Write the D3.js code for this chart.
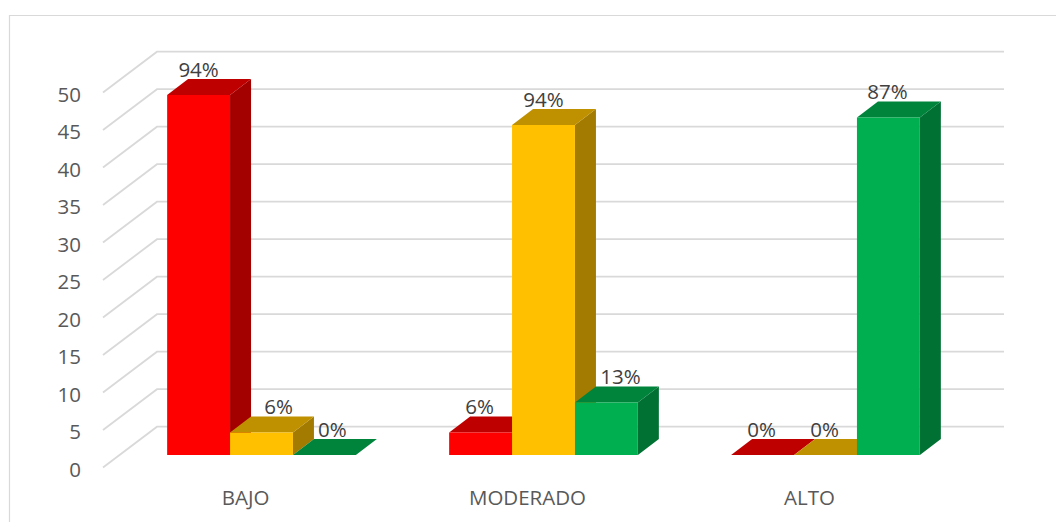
<!DOCTYPE html>
<html><head><meta charset="utf-8">
<script src="https://cdn.jsdelivr.net/npm/d3@7"></script>
<style>html,body{margin:0;padding:0;background:#fff}svg{display:block}</style>
</head><body><div id="c"></div>
<script>
const categories = ["BAJO","MODERADO","ALTO"];
const seriesNames = ["Rojo","Amarillo","Verde"];
const rojo = [48,3,0];
const amarillo = [3,44,0];
const verde = [0,7,45];
const rojoLabels = ["94%","6%","0%"];
const amarilloLabels = ["6%","94%","0%"];
const verdeLabels = ["0%","13%","87%"];
const yTicks = [0,5,10,15,20,25,30,35,40,45,50];

const W=1056,H=522;
const series=[
 {values:rojo,labels:rojoLabels,front:"#FF0000",top:"#BF0000",side:"#A30000",nudge:[0,-1,-1]},
 {values:amarillo,labels:amarilloLabels,front:"#FFC000",top:"#BF9000",side:"#A37B00",nudge:[17,0,-1]},
 {values:verde,labels:verdeLabels,front:"#00B050",top:"#00843C",side:"#007033",nudge:[8,14,-1]}
];
const svg=d3.select("#c").append("svg").attr("width",W).attr("height",H);
const FONT="'Open Sans',sans-serif";
const x=d3.scaleBand().domain(categories).range([120.5,966.5]);
const sub=d3.scaleBand().domain(d3.range(3)).range([0,188.7]);
const groupOff=(x.bandwidth()-sub.bandwidth()*3)/2;
const y=d3.scaleLinear().domain([0,50]).range([455,80]);
const dx=21,dy=16;

// outer frame
svg.append("path").attr("d","M9.5,522V15.5H1056").attr("fill","none").attr("stroke","#d9d9d9").attr("stroke-width",1.2);

// gridlines on floor edge and back wall
const gx0=103,gx1=157,gx2=1004,gFront=12.5,gBack=-28.3;
svg.append("g").selectAll("path").data(yTicks).join("path")
 .attr("d",v=>`M${gx0},${y(v)+gFront}L${gx1},${y(v)+gBack}H${gx2}`)
 .attr("fill","none").attr("stroke","#d9d9d9").attr("stroke-width",1.8);

// value axis
const yAxis=svg.append("g").attr("transform","translate(81,14.5)")
 .call(d3.axisLeft(y).tickValues(yTicks).tickSize(0).tickPadding(0));
yAxis.select(".domain").remove();
yAxis.selectAll("text").attr("font-family",FONT).attr("font-size",20.5).attr("fill","#595959");

// category axis
const xAxis=svg.append("g").attr("transform","translate(-16,490.5)")
 .call(d3.axisBottom(x).tickSize(0).tickPadding(0));
xAxis.select(".domain").remove();
xAxis.selectAll("text").attr("font-family",FONT).attr("font-size",20.5).attr("fill","#595959");

// bars
const poly=p=>"M"+p.map(q=>q.join(",")).join("L")+"Z";
categories.forEach((c,ci)=>{
 const g=svg.append("g");
 series.forEach((s,si)=>{
  const v=s.values[ci];
  const l=x(c)+groupOff+sub(si), r=l+sub.bandwidth(), b=y(0), t=y(v);
  if(v>0){
   g.append("path").attr("d",poly([[r,t],[r+dx,t-dy],[r+dx,b-dy],[r,b]])).attr("fill",s.side);
  }
  g.append("path").attr("d",poly([[l,t],[r,t],[r+dx,t-dy],[l+dx,t-dy]])).attr("fill",s.top);
  if(v>0){
   g.append("rect").attr("x",l).attr("y",t).attr("width",r-l).attr("height",b-t).attr("fill",s.front);
  }
 });
});

// data labels
categories.forEach((c,ci)=>{
 series.forEach((s,si)=>{
  svg.append("text")
   .attr("x",x(c)+groupOff+sub(si)+sub.bandwidth()/2+s.nudge[ci])
   .attr("y",y(s.values[ci])-25.5)
   .attr("dy","0.35em")
   .attr("text-anchor","middle")
   .attr("font-family",FONT).attr("font-size",20.5).attr("fill","#404040")
   .text(s.labels[ci]);
 });
});
</script></body></html>
